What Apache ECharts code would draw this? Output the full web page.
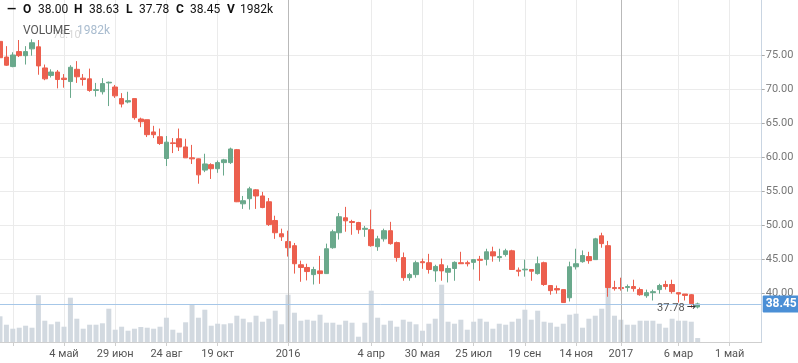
<!DOCTYPE html>
<html><head><meta charset="utf-8">
<script src="https://cdn.jsdelivr.net/npm/echarts@6/dist/echarts.min.js"></script>
<style>html,body{margin:0;padding:0;background:#fff}#c{width:798px;height:363px}</style>
</head><body><div id="c"></div><script>
// ---- data ----
const firstWeek = '2015-02-23';   // Monday of the first weekly candle
const weekCount = 120;            // weeks on the axis (incl. empty future weeks)
const tickLabels = [
  ['2015-03-09', ''], ['2015-05-04', '4 май'], ['2015-06-29', '29 июн'], ['2015-08-24', '24 авг'],
  ['2015-10-19', '19 окт'], ['2016-01-04', '2016'], ['2016-04-04', '4 апр'], ['2016-05-30', '30 мая'],
  ['2016-07-25', '25 июл'], ['2016-09-19', '19 сен'], ['2016-11-14', '14 ноя'], ['2017-01-02', '2017'],
  ['2017-03-06', '6 мар'], ['2017-05-01', '1 май']
];
const yearMarks = ['2016-01-04', '2017-01-02'];
const opens = [77.0,74.7,73.3,75.5,74.9,75.9,76.2,73.1,72.0,72.5,
  71.6,71.1,72.9,71.6,71.5,69.8,69.6,70.9,70.3,68.6,
  68.1,68.6,65.6,65.5,63.7,63.0,59.8,62.1,62.7,61.5,
  59.9,59.75,58.1,58.9,58.3,59.2,59.2,61.1,53.15,53.9,
  55.2,54.3,53.45,50.7,48.75,47.6,47.0,44.2,43.8,42.75,
  43.3,42.9,46.7,48.9,51.1,50.55,50.4,49.4,49.35,46.85,
  48.0,49.2,47.45,45.25,42.3,42.75,44.65,44.5,43.3,44.2,
  43.1,43.65,44.5,44.5,44.55,45.0,45.0,46.1,45.25,45.7,
  46.25,43.4,43.45,43.5,42.9,44.5,41.15,40.7,40.55,39.35,
  43.9,44.65,45.4,44.95,48.45,47.0,40.85,40.85,40.85,41.0,
  40.55,39.65,40.1,40.55,41.3,41.3,40.1,39.9,39.8,38.00];
const highs = [77.8,76.3,75.4,77.2,76.3,77.3,77.2,73.6,72.9,72.8,
  72.2,73.5,74.1,72.2,73.0,70.9,71.6,71.1,70.6,69.4,
  69.6,68.6,65.8,65.5,64.6,64.2,63.1,62.8,64.2,62.7,
  61.8,59.8,60.5,59.1,59.5,59.75,61.4,61.2,54.3,55.65,
  55.3,54.9,54.0,51.4,49.5,49.2,47.4,44.8,44.35,43.9,
  45.5,47.3,49.35,51.8,52.7,50.8,50.5,49.9,52.3,48.45,
  49.5,50.5,47.6,46.0,43.0,44.8,45.1,45.8,44.2,45.1,
  44.1,44.7,46.1,44.8,45.0,45.5,46.55,46.85,46.55,46.55,
  46.4,43.8,44.95,43.5,45.4,44.65,41.15,41.15,40.55,44.65,
  46.55,46.3,46.1,48.15,48.9,47.7,41.85,42.3,41.3,42.0,
  40.85,40.55,40.55,41.4,41.85,42.0,40.1,39.9,39.9,38.63];
const lows = [73.1,73.4,73.2,74.7,73.6,74.9,72.1,71.3,71.7,70.1,
  70.2,68.7,70.9,70.5,69.6,68.9,69.2,67.5,68.7,67.3,
  67.9,65.5,64.4,62.95,62.8,61.8,58.7,60.6,60.9,59.9,
  59.0,56.1,57.8,56.8,57.7,57.3,59.0,53.4,52.4,52.3,
  52.4,52.5,49.9,48.0,47.7,45.4,42.9,41.7,41.9,41.3,
  41.4,42.85,46.55,47.9,49.05,48.6,48.75,48.3,46.85,46.25,
  47.6,47.15,44.65,41.85,41.85,42.3,43.6,42.9,41.7,41.85,
  41.6,41.85,44.35,43.95,43.5,41.85,44.1,44.65,44.65,45.4,
  43.5,42.5,42.45,41.85,42.75,41.1,39.8,39.95,38.65,38.8,
  43.5,44.5,44.35,44.95,46.7,39.5,40.4,40.4,40.25,40.25,
  39.65,39.35,38.95,39.95,40.55,39.95,38.65,38.95,37.9,37.78];
const closes = [74.6,73.5,75.0,74.9,75.5,76.8,73.4,71.5,72.5,71.4,
  71.4,73.2,71.8,71.4,69.8,69.9,70.8,71.0,69.0,67.8,
  68.3,65.8,65.2,63.3,63.3,62.0,62.2,62.0,61.5,59.9,
  59.75,57.4,59.0,58.3,59.2,59.6,61.2,53.45,53.6,55.35,
  54.3,52.6,50.1,48.9,48.3,46.7,44.35,43.8,43.2,43.5,
  42.9,46.55,49.05,51.25,50.65,50.4,49.35,49.55,47.0,48.0,
  49.2,47.3,45.25,42.3,42.75,44.5,44.5,43.5,43.95,43.3,
  43.65,44.55,44.35,44.35,44.95,44.85,46.1,45.5,45.4,46.25,
  43.5,43.25,43.55,43.25,44.35,41.3,40.4,40.5,38.65,43.9,
  44.35,45.55,44.8,48.0,47.3,40.85,40.7,40.7,41.0,40.7,
  39.8,40.1,40.25,41.15,41.0,40.25,39.9,39.7,38.5,38.45];
const volumesK = [12850,8650,6650,7150,8150,7150,23350,10650,8850,10150,
  7650,22150,11650,6650,8650,8650,9350,16650,6150,7650,
  5650,6650,7500,7150,6650,7650,12150,6150,4650,9850,
  19000,12150,16150,8150,9150,8850,9350,13150,11650,9850,
  13150,10150,11650,15650,8850,23650,14650,10650,11150,10650,
  13650,9650,9650,8650,10650,9650,2650,9650,25650,12150,
  8650,10650,7650,11150,10150,8850,5650,9150,11650,28650,
  10150,9150,11150,6150,10150,11650,10150,6650,9150,8650,
  10150,11650,16150,11150,15650,10150,9650,7650,9150,13650,
  14150,7150,11650,13150,16650,28150,13150,11150,8650,8650,
  10650,10650,10650,9150,7150,11650,10650,10650,10150,1982];
const highMarkerText = '78.10';

// ---- layout / style ----
const FONT = 'Roboto, "Open Sans", sans-serif';
const GRID_LEFT = -0.74, GRID_RIGHT = 36.3, BASE_Y = 342, Y75 = 55, PX = 6.81;
const H = 363;
const pMax = 75 + Y75 / PX;
const pMin = 75 - (BASE_Y - Y75) / PX;
const volMaxK = BASE_Y * 0.5;   // thousands of lots at the top of the pane

const weeks = [];
{
  const d = new Date(firstWeek + 'T00:00:00Z');
  for (let i = 0; i < weekCount; i++) {
    weeks.push(new Date(d.getTime() + i * 7 * 86400000).toISOString().slice(0, 10));
  }
}
const labelMap = new Map(tickLabels);
const candleData = opens.map((o, i) => [o, closes[i], lows[i], highs[i]]);
const last = opens.length - 1;

const chart = echarts.init(document.getElementById('c'), null, {renderer: 'canvas'});
const showTick = (idx, val) => labelMap.has(val);
chart.setOption({
  animation: false,
  backgroundColor: '#fff',
  grid: [
    {left: GRID_LEFT, right: GRID_RIGHT, top: 0, bottom: H - BASE_Y},
    {left: GRID_LEFT, right: GRID_RIGHT, top: Y75, height: 35 * PX}
  ],
  xAxis: [
    {type: 'category', gridIndex: 0, data: weeks, boundaryGap: false,
     axisLine: {lineStyle: {color: '#cfcfcf'}},
     axisTick: {show: true, interval: showTick, length: 4, lineStyle: {color: '#cfcfcf'}},
     axisLabel: {interval: showTick, formatter: v => labelMap.get(v) || '', color: '#555', fontSize: 11, fontFamily: FONT, margin: 7},
     splitLine: {show: true, interval: showTick, lineStyle: {color: '#ebebeb', width: 1}}},
    {type: 'category', gridIndex: 1, data: weeks, boundaryGap: false, show: false}
  ],
  yAxis: [
    {type: 'value', gridIndex: 0, min: pMin, max: pMax, show: false},
    {type: 'value', gridIndex: 0, min: 0, max: volMaxK, position: 'right',
     axisLine: {show: true, lineStyle: {color: '#c9d5e2'}}, axisTick: {show: false}, axisLabel: {show: false}, splitLine: {show: false}},
    {type: 'value', gridIndex: 1, min: 40, max: 75, interval: 5, position: 'right',
     axisLine: {show: false},
     axisTick: {show: true, length: 3, inside: false, lineStyle: {color: '#aaa'}},
     axisLabel: {formatter: v => v.toFixed(2), color: '#777', fontSize: 11, fontFamily: FONT, margin: 4},
     splitLine: {show: true, lineStyle: {color: '#ebebeb', width: 1}}}
  ],
  series: [
    {type: 'bar', xAxisIndex: 0, yAxisIndex: 1, data: volumesK.map(v => v / 1000), barWidth: 5,
     itemStyle: {color: '#d2d9e0'}, z: 1, silent: true,
     markLine: {silent: true, symbol: ['none', 'none'], label: {show: false},
       lineStyle: {color: '#b9b9b9', type: 'solid', width: 1},
       data: yearMarks.map(d => ({xAxis: d}))}},
    {type: 'candlestick', xAxisIndex: 0, yAxisIndex: 0, data: candleData, barWidth: 5, z: 3,
     itemStyle: {color: '#6aa98c', color0: '#ec5f4e', borderColor: '#6aa98c', borderColor0: '#ec5f4e', borderWidth: 1},
     markLine: {silent: true, symbol: ['none', 'none'],
       lineStyle: {color: '#a6c7e8', type: 'solid', width: 1},
       label: {show: true, position: 'end', distance: 1, formatter: () => closes[last].toFixed(2),
         backgroundColor: '#4b8fd6', color: '#fff', fontSize: 12, fontWeight: 'bold', fontFamily: FONT,
         padding: [3, 3, 2, 3], borderRadius: 1},
       data: [{yAxis: closes[last]}]}}
  ]
});

// header + markers
const lowPt = chart.convertToPixel({xAxisIndex: 0, yAxisIndex: 0}, [weeks[last], lows[last]]);
const hdr = [
  ['—', 7, true], ['O', 23, true], [opens[last].toFixed(2), 38, false],
  ['H', 74, true], [highs[last].toFixed(2), 89, false],
  ['L', 126, true], [lows[last].toFixed(2), 139, false],
  ['C', 176, true], [closes[last].toFixed(2), 190, false],
  ['V', 227, true], [Math.round(volumesK[last]) + 'k', 240, false]
];
const graphics = hdr.map(([t, x, b]) => ({type: 'text', left: x, top: 4, z: 10,
  style: {text: t, fill: '#111', font: (b ? 'bold ' : '') + '12px ' + FONT}}));
graphics.push({type: 'text', x: 53, y: 35, z: 9, style: {text: highMarkerText, fill: '#d6d6d6', font: '11px ' + FONT, verticalAlign: 'middle'}});
graphics.push({type: 'text', left: 23, top: 25, z: 10, style: {text: 'VOLUME', fill: '#555', font: '12px ' + FONT}});
graphics.push({type: 'text', left: 77, top: 25, z: 10, style: {text: Math.round(volumesK[last]) + 'k', fill: '#a9bccf', font: '12px ' + FONT}});
graphics.push({type: 'text', x: lowPt[0] - 13, y: lowPt[1], z: 10,
  style: {text: lows[last].toFixed(2), fill: '#555', font: '11px ' + FONT, align: 'right', verticalAlign: 'middle'}});
graphics.push({type: 'text', x: lowPt[0] - 2, y: lowPt[1] - 1, z: 10,
  style: {text: '→', fill: '#333', font: '11px "DejaVu Sans", sans-serif', align: 'right', verticalAlign: 'middle'}});
chart.setOption({graphic: graphics});
</script></body></html>
